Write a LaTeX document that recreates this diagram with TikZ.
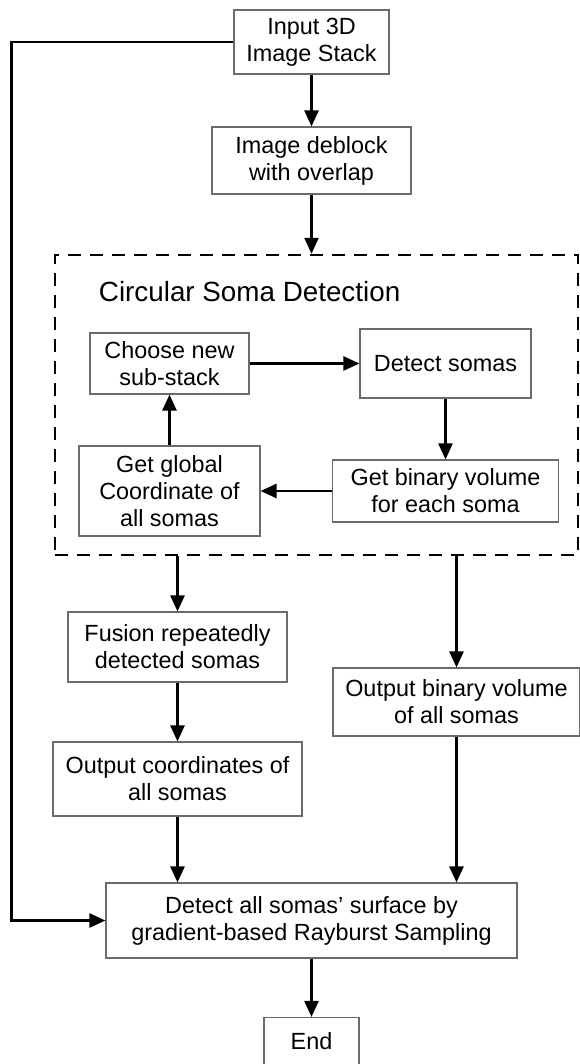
\documentclass[tikz,border=0pt]{standalone}
\usepackage{fontspec}
\setmainfont{Liberation Sans}
\usetikzlibrary{positioning,arrows.meta}

\begin{document}
\begin{tikzpicture}[on grid,x=1pt,y=1pt,>={Triangle[length=16pt,width=14pt]},
    proc/.style={draw=black!58,line width=1.1pt,align=center,inner sep=0pt,
      font=\fontsize{23.4pt}{27pt}\selectfont},
    flow/.style={->,line width=2.5pt},
    region/.style={draw,line width=2.4pt,dash pattern=on 13pt off 9pt}]
   \useasboundingbox (-311.5,42) rectangle (268.5,-1022);
   \node[proc,minimum width=155pt,minimum height=64pt] (input) {Input 3D\\Image Stack};
   \node[proc,minimum width=199pt,minimum height=67pt] (deblock) [below=118.5pt of input] {Image deblock\\with overlap};
   \node[region,minimum width=523pt,minimum height=300pt] (csd) [below right=363pt and 5pt of input] {};
   \node[anchor=west,inner sep=0pt,xshift=45pt,yshift=-38pt,font=\fontsize{27.8pt}{32pt}\selectfont] (title) at (csd.north west) {Circular Soma Detection};
   \node[proc,minimum width=159pt,minimum height=61pt] (choose) [below left=203pt and 142pt of deblock] {Choose new\\sub-stack};
   \node[proc,minimum width=171pt,minimum height=69pt] (detect) [right=276pt of choose] {Detect somas};
   \node[proc,minimum width=226pt,minimum height=62pt] (binary) [below=127.5pt of detect] {Get binary volume\\for each soma};
   \node[proc,minimum width=181pt,minimum height=90pt] (global) [below=127.5pt of choose] {Get global\\Coordinate of\\all somas};
   \node[proc,minimum width=219pt,minimum height=70pt] (fusion) [below right=156pt and 8pt of global] {Fusion repeatedly\\detected somas};
   \node[proc,minimum width=249pt,minimum height=74pt] (outcoord) [below=132pt of fusion] {Output coordinates of\\all somas};
   \node[proc,minimum width=247pt,minimum height=68pt] (outbin) [below right=211pt and 11pt of binary] {Output binary volume\\of all somas};
   \node[proc,minimum width=411pt,minimum height=75pt] (detall) [below right=141.5pt and 134pt of outcoord] {Detect all somas’ surface by\\gradient-based Rayburst Sampling};
   \node[proc,minimum width=95pt,minimum height=48pt] (end) [below=121pt of detall] {End};
   \coordinate[left=222pt of input.west] (back);
   \path[flow]
        (input) edge (deblock)
        (deblock) edge (deblock |- csd.north)
        (choose) edge (detect)
        (detect) edge (binary)
        (binary) edge (global)
        (global) edge (choose)
        (csd.south -| fusion) edge (fusion)
        (csd.south -| outbin) edge (outbin)
        (fusion) edge (outcoord)
        (outcoord) edge (outcoord |- detall.north)
        (outbin) edge (outbin |- detall.north)
        (detall) edge (end)
        ;
   \draw[flow] (input.west) -- (back) |- (detall.west);
\end{tikzpicture}
\end{document}
